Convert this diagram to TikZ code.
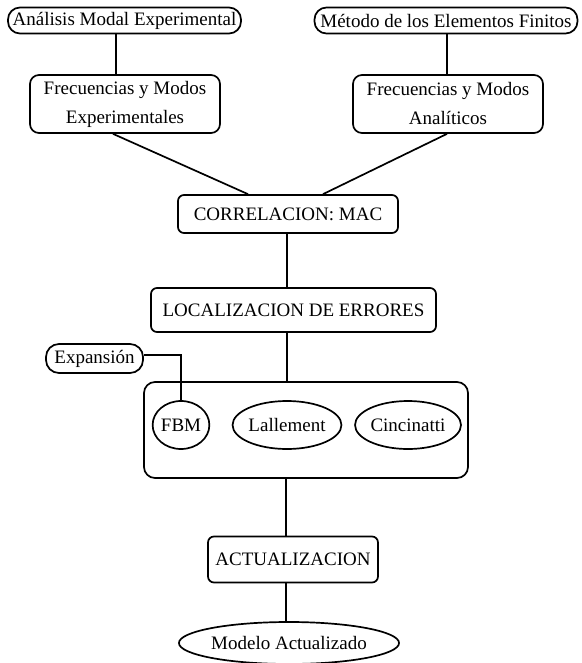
\documentclass[tikz,border=0pt]{standalone}
\usepackage{fontspec}
\setmainfont{Liberation Serif}
\usetikzlibrary{shapes.geometric}
\begin{document}
\begin{tikzpicture}[x=1pt,y=-1pt,
  every node/.style={font=\fontsize{19}{29}\selectfont, inner sep=0pt, align=center},
  pill/.style={draw, rounded corners=12pt},
  twobox/.style={draw, rounded corners=9pt, minimum width=190pt, minimum height=58pt},
  boxnode/.style={draw, rounded corners=6pt},
  oval/.style={draw, ellipse},
  conn/.style={line width=1.7pt},
  line width=1.7pt]
\useasboundingbox (0,0) rectangle (581,663);
% nodes
\node[pill, minimum width=233pt, minimum height=26pt] (ame) at (124.5,20.5) {Análisis Modal Experimental};
\node[pill, minimum width=263pt, minimum height=26pt] (mef) at (446,20.5) {Método de los Elementos Finitos};
\node[twobox] (fexp) at (125,104) {Frecuencias y Modos\\Experimentales};
\node[twobox] (fana) at (448,104) {Frecuencias y Modos\\Analíticos};
\node[boxnode, minimum width=220pt, minimum height=38pt] (corr) at (288,214) {CORRELACION: MAC};
\node[boxnode, minimum width=285pt, minimum height=44pt] (loc) at (293.5,310) {LOCALIZACION DE ERRORES};
\node[draw, rounded corners=11pt, minimum width=324pt, minimum height=96pt] (big) at (306,430) {};
\node[pill, rounded corners=13pt, minimum width=97pt, minimum height=29pt] (exp) at (94.5,358.5) {Expansión};
\node[oval, minimum width=52pt, minimum height=48pt] (fbm) at (181,425) {FBM};
\node[oval, minimum width=101pt, minimum height=48pt] (lal) at (287,425) {Lallement};
\node[oval, minimum width=98pt, minimum height=48pt] (cin) at (408,425) {Cincinatti};
\node[boxnode, minimum width=170pt, minimum height=46pt] (act) at (293,559.5) {ACTUALIZACION};
\node[oval, minimum width=182pt, minimum height=42pt] (mod) at (289,643) {Modelo Actualizado};
% connectors
\draw[conn] (ame.south -| 116,0) -- (fexp.north -| 116,0);
\draw[conn] (mef.south -| 447,0) -- (fana.north -| 447,0);
\draw[conn] (fexp.south -| 113,0) -- (corr.north -| 248,0);
\draw[conn] (fana.south -| 447,0) -- (corr.north -| 323,0);
\draw[conn] (corr.south -| 287,0) -- (loc.north -| 287,0);
\draw[conn] (loc.south -| 287,0) -- (big.north -| 287,0);
\draw[conn] (exp.east |- 0,355) -| (fbm.north);
\draw[conn] (big.south -| 286,0) -- (act.north -| 286,0);
\draw[conn] (act.south -| 286,0) -- (mod.north -| 286,0);
\end{tikzpicture}
\end{document}
